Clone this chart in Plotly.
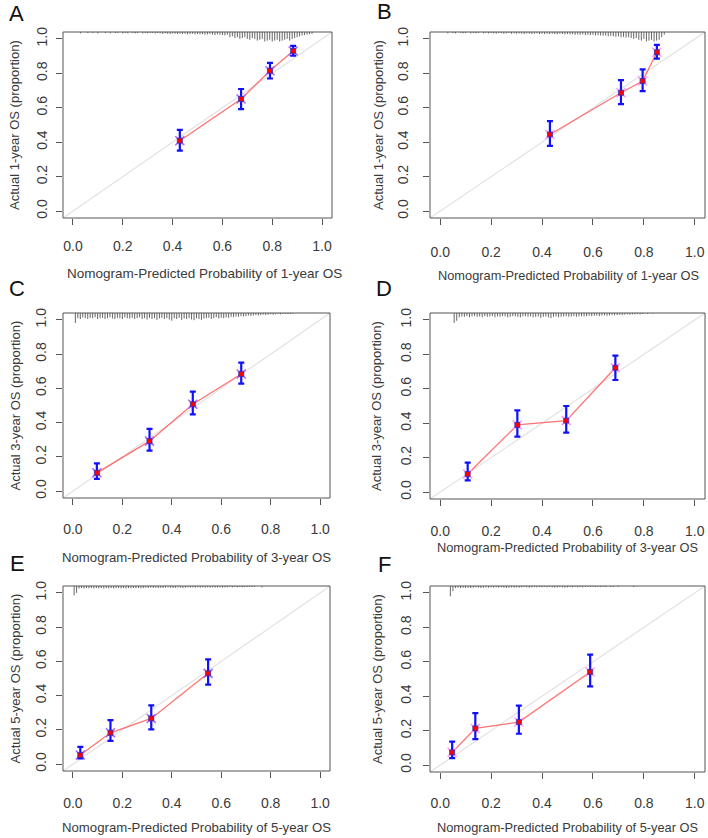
import plotly.graph_objects as go

W, H = 708, 838

# ---------------- data ----------------
panel_letters = ["A", "B", "C", "D", "E", "F"]
x_titles = [
    "Nomogram-Predicted Probability of 1-year OS",
    "Nomogram-Predicted Probability of 1-year OS",
    "Nomogram-Predicted Probability of 3-year OS",
    "Nomogram-Predicted Probability of 3-year OS",
    "Nomogram-Predicted Probability of 5-year OS",
    "Nomogram-Predicted Probability of 5-year OS",
]
y_titles = [
    "Actual 1-year OS (proportion)",
    "Actual 1-year OS (proportion)",
    "Actual 3-year OS (proportion)",
    "Actual 3-year OS (proportion)",
    "Actual 5-year OS (proportion)",
    "Actual 5-year OS (proportion)",
]
tick_vals = [0.0, 0.2, 0.4, 0.6, 0.8, 1.0]
tick_text = ["0.0", "0.2", "0.4", "0.6", "0.8", "1.0"]

# predicted (x), observed (y), CI lower / upper
pred_A = [0.429, 0.675, 0.791, 0.884]
obs_A = [0.409, 0.651, 0.815, 0.930]
low_A = [0.351, 0.592, 0.770, 0.902]
up_A = [0.472, 0.709, 0.861, 0.959]

pred_B = [0.431, 0.710, 0.795, 0.851]
obs_B = [0.445, 0.687, 0.755, 0.922]
low_B = [0.379, 0.621, 0.697, 0.885]
up_B = [0.522, 0.761, 0.823, 0.965]

pred_C = [0.097, 0.310, 0.485, 0.681]
obs_C = [0.107, 0.292, 0.507, 0.684]
low_C = [0.072, 0.236, 0.448, 0.628]
up_C = [0.162, 0.363, 0.581, 0.750]

pred_D = [0.108, 0.303, 0.495, 0.688]
obs_D = [0.105, 0.390, 0.415, 0.722]
low_D = [0.068, 0.322, 0.345, 0.651]
up_D = [0.171, 0.475, 0.500, 0.793]

pred_E = [0.030, 0.152, 0.317, 0.547]
obs_E = [0.053, 0.183, 0.267, 0.530]
low_E = [0.033, 0.136, 0.203, 0.464]
up_E = [0.101, 0.257, 0.343, 0.612]

pred_F = [0.047, 0.138, 0.309, 0.589]
obs_F = [0.074, 0.213, 0.250, 0.541]
low_F = [0.041, 0.151, 0.182, 0.457]
up_F = [0.136, 0.302, 0.345, 0.641]

# spike histograms (rug) of predicted probabilities: first bin and depths per 0.01 bin
rug_start_A = 0.03
rug_A = [0.008, 0, 0, 0.006, 0, 0.006, 0, 0.008, 0, 0, 0.006, 0, 0.008, 0, 0.006, 0.006, 0, 0.008,
         0.006, 0.008, 0, 0.006, 0.008, 0.006, 0, 0.008, 0.006, 0.008, 0.006, 0.006, 0.008, 0.006, 0.008,
         0.010, 0.008, 0.010, 0.012, 0.008, 0.010, 0.012, 0.010, 0.012, 0.010, 0.014, 0.012, 0.010, 0.014, 0.012,
         0.014, 0.012, 0.016, 0.014, 0.012, 0.016, 0.018, 0.014, 0.016, 0.018, 0.020, 0.016,
         0.030, 0.025, 0.035, 0.030, 0.040, 0.035, 0.030, 0.040, 0.045, 0.035,
         0.040, 0.050, 0.045, 0.040, 0.055, 0.050, 0.045, 0.055, 0.050, 0.045, 0.055, 0.050, 0.045, 0.040, 0.050, 0.040,
         0.035, 0.030, 0.025, 0.020, 0.018, 0.015, 0.012, 0.010]

rug_start_B = 0.03
rug_B = [0.008, 0, 0.006, 0.008, 0, 0.006, 0.008, 0.006, 0, 0.008, 0.006, 0.008, 0.006, 0, 0.008, 0.006, 0.008,
         0.006, 0.008, 0.010, 0.006, 0.008, 0.010, 0.008, 0.006, 0.010, 0.008, 0.010, 0.008, 0.010, 0.012,
         0.008, 0.010, 0.012, 0.010, 0.008, 0.012, 0.010, 0.012, 0.010, 0.012, 0.010, 0.012, 0.014, 0.010,
         0.012, 0.014, 0.012, 0.014, 0.012, 0.016, 0.014, 0.016, 0.014, 0.018, 0.016, 0.018, 0.016, 0.020,
         0.018, 0.020, 0.022, 0.020, 0.025, 0.022, 0.025, 0.028, 0.025, 0.030, 0.028, 0.032, 0.030, 0.035,
         0.040, 0.035, 0.045, 0.050, 0.040, 0.055, 0.050, 0.045, 0.055, 0.050, 0.045, 0.030, 0.015]

rug_start_C = 0.01
rug_C = [0.058, 0.030, 0.035, 0.025, 0.030, 0.035, 0.028, 0.030, 0.025, 0.035, 0.030, 0.028, 0.035, 0.030,
         0.025, 0.032, 0.035, 0.028, 0.030, 0.035, 0.025, 0.030, 0.032, 0.028, 0.035, 0.030, 0.025, 0.035,
         0.030, 0.038, 0.028, 0.035, 0.030, 0.040, 0.032, 0.028, 0.035, 0.030, 0.038, 0.045, 0.030, 0.035,
         0.028, 0.040, 0.032, 0.035, 0.030, 0.038, 0.042, 0.030, 0.035, 0.040, 0.032, 0.030, 0.028, 0.035,
         0.030, 0.025, 0.032, 0.028, 0.030, 0.025, 0.028, 0.022, 0.025, 0.020, 0.022, 0.018, 0.020, 0.018,
         0.015, 0.018, 0.015, 0.012, 0.015, 0.012, 0.010, 0.012, 0.010, 0.008, 0.010, 0.008, 0.006, 0.008,
         0.006, 0.005, 0.006, 0.005, 0.004]

rug_start_D = 0.055
rug_D = [0.058, 0.045, 0.025, 0.020, 0.022, 0.018, 0.025, 0.020, 0.018, 0.022, 0.020, 0.025, 0.018, 0.022,
         0.020, 0.018, 0.025, 0.020, 0.022, 0.018, 0.020, 0.025, 0.022, 0.018, 0.020, 0.022, 0.025, 0.020,
         0.018, 0.022, 0.020, 0.025, 0.022, 0.020, 0.028, 0.022, 0.020, 0.025, 0.030, 0.022, 0.020, 0.025,
         0.022, 0.020, 0.018, 0.022, 0.020, 0.018, 0.022, 0.020, 0.018, 0.020, 0.018, 0.016, 0.018, 0.016,
         0.015, 0.018, 0.015, 0.014, 0.016, 0.014, 0.012, 0.014, 0.012, 0.010, 0.012, 0.010, 0.008, 0.010,
         0.008, 0.008, 0.006, 0.008, 0.006, 0, 0.006, 0, 0.005]

rug_start_E = 0.005
rug_E = [0.055, 0.040, 0.015, 0.012, 0.015, 0.012, 0.014, 0.012, 0.015, 0.012, 0.014, 0.012, 0.015, 0.012,
         0.014, 0.012, 0.015, 0.013, 0.012, 0.014, 0.012, 0.015, 0.012, 0.014, 0.012, 0.013, 0.012, 0.014,
         0.012, 0.010, 0.012, 0.010, 0.012, 0.010, 0.012, 0.010, 0.012, 0.010, 0.008, 0.010, 0.012, 0.010,
         0.008, 0.010, 0.012, 0.010, 0.008, 0.010, 0.008, 0.010, 0.008, 0.010, 0.008, 0.010, 0.008, 0.010,
         0.008, 0.010, 0.008, 0.008, 0.010, 0.008, 0.008, 0.006, 0.008, 0.006, 0.008, 0.006, 0.008, 0.006,
         0.006, 0.005, 0.006, 0.005, 0, 0, 0.008]

rug_start_F = 0.04
rug_F = [0.060, 0.030, 0.012, 0.010, 0.012, 0.010, 0.012, 0.010, 0.012, 0.010, 0.008, 0.010, 0.012, 0.010,
         0.008, 0.010, 0.008, 0.010, 0.008, 0.010, 0.008, 0.010, 0.012, 0.010, 0.008, 0.010, 0.008, 0.010,
         0.008, 0.006, 0.008, 0.010, 0.008, 0.006, 0.008, 0.006, 0.008, 0.006, 0.008, 0.006, 0.008, 0.010,
         0.008, 0.006, 0.008, 0.010, 0.008, 0.006, 0.008, 0.006, 0.008, 0.006, 0.008, 0.006, 0.005, 0.006,
         0.005, 0.006, 0.005, 0.006, 0.005, 0.006, 0, 0.005, 0.006, 0, 0.005, 0, 0, 0, 0, 0, 0.006]

panels = [
    (pred_A, obs_A, low_A, up_A, rug_start_A, rug_A),
    (pred_B, obs_B, low_B, up_B, rug_start_B, rug_B),
    (pred_C, obs_C, low_C, up_C, rug_start_C, rug_C),
    (pred_D, obs_D, low_D, up_D, rug_start_D, rug_D),
    (pred_E, obs_E, low_E, up_E, rug_start_E, rug_E),
    (pred_F, obs_F, low_F, up_F, rug_start_F, rug_F),
]

# ---------------- layout geometry (pixels) ----------------
# plot box: left, right, top, bottom
boxes = [
    (63, 332, 32, 218),
    (430, 705, 32, 218),
    (63, 330, 313, 498),
    (430, 705, 313, 499),
    (63, 330, 586, 771),
    (430, 705, 586, 772),
]
letter_pos = [(16, 13), (384, 12), (17, 288), (384, 288), (17, 563), (384, 564)]
xtitle_pos = [(204, 273), (568, 275), (196, 557), (567, 547), (196, 827), (567, 827)]
xtitle_size = [13.5, 12.8, 13.2, 12.8, 13.2, 12.8]
ytitle_x = [15, 379, 15, 377, 15, 377]
xlab_standoff = [9, 15, 12, 13, 13, 12]
ylab_standoff = [3, 9, 4, 6, 4, 6]

RANGE = [-0.04, 1.04]
TXT = "#3a3a3a"
AX = "#555555"
FONT = "Liberation Sans, Arial, sans-serif"

fig = go.Figure()
layout = dict(
    width=W, height=H,
    margin=dict(l=0, r=0, t=0, b=0, autoexpand=False),
    paper_bgcolor="white", plot_bgcolor="white",
    showlegend=False,
    font=dict(family=FONT, color=TXT, size=13),
)
annotations = []
shapes = []

for i, (pred, obs, low, up, rstart, rug) in enumerate(panels):
    n = i + 1
    xa = "x" if n == 1 else f"x{n}"
    ya = "y" if n == 1 else f"y{n}"
    l, r, t, b = boxes[i]
    xdom = [l / W, r / W]
    ydom = [1 - b / H, 1 - t / H]

    # diagonal reference line
    fig.add_trace(go.Scatter(x=RANGE, y=RANGE, mode="lines",
                             line=dict(color="#e2e2e2", width=1.2),
                             xaxis=xa, yaxis=ya, hoverinfo="skip"))
    # spike histogram at top
    rx, ry = [], []
    for k, h in enumerate(rug):
        if h <= 0:
            continue
        xv = rstart + 0.01 * k
        rx += [xv, xv, None]
        ry += [RANGE[1], RANGE[1] - h, None]
    fig.add_trace(go.Scatter(x=rx, y=ry, mode="lines",
                             line=dict(color="#666666", width=1),
                             xaxis=xa, yaxis=ya, hoverinfo="skip"))
    # red calibration line
    fig.add_trace(go.Scatter(x=pred, y=obs, mode="lines",
                             line=dict(color="rgba(255,80,80,0.8)", width=1.3),
                             xaxis=xa, yaxis=ya))
    # bias-corrected markers (light blue x)
    fig.add_trace(go.Scatter(x=pred, y=obs, mode="markers",
                             marker=dict(symbol="x-thin-open", size=9,
                                         line=dict(color="rgba(120,140,255,0.6)", width=1.5)),
                             xaxis=xa, yaxis=ya))
    # error bars
    err_up = [u - o for u, o in zip(up, obs)]
    err_dn = [o - lo for o, lo in zip(obs, low)]
    fig.add_trace(go.Scatter(x=pred, y=obs, mode="markers",
                             marker=dict(color="red", size=5, symbol="square",
                                         line=dict(color="#3030c0", width=0.8)),
                             error_y=dict(type="data", array=err_up, arrayminus=err_dn,
                                          color="#1010ff", thickness=2.2, width=3),
                             xaxis=xa, yaxis=ya))

    common = dict(range=RANGE, showgrid=False, zeroline=False, automargin=False,
                  showline=False,
                  ticks="outside", ticklen=6, tickcolor=AX, tickwidth=1,
                  tickvals=tick_vals, ticktext=tick_text,
                  tickfont=dict(family=FONT, size=14, color=TXT))
    layout["xaxis" if n == 1 else f"xaxis{n}"] = dict(
        domain=xdom, anchor=ya, ticklabelstandoff=xlab_standoff[i], **common)
    layout["yaxis" if n == 1 else f"yaxis{n}"] = dict(
        domain=ydom, anchor=xa, tickangle=-90, ticklabelstandoff=ylab_standoff[i], **common)

    # plot box
    shapes.append(dict(type="rect", xref="paper", yref="paper",
                       x0=xdom[0], x1=xdom[1], y0=ydom[0], y1=ydom[1],
                       line=dict(color=AX, width=1), fillcolor="rgba(0,0,0,0)", layer="above"))

    # texts
    lx, ly = letter_pos[i]
    annotations.append(dict(text=panel_letters[i], x=lx / W, y=1 - ly / H,
                            xref="paper", yref="paper", xanchor="center", yanchor="middle",
                            showarrow=False, font=dict(family=FONT, size=22, color="#111111")))
    tx, ty = xtitle_pos[i]
    annotations.append(dict(text=x_titles[i], x=tx / W, y=1 - ty / H,
                            xref="paper", yref="paper", xanchor="center", yanchor="middle",
                            showarrow=False, font=dict(family=FONT, size=xtitle_size[i], color=TXT)))
    annotations.append(dict(text=y_titles[i], x=ytitle_x[i] / W, y=1 - ((t + b) / 2) / H,
                            xref="paper", yref="paper", xanchor="center", yanchor="middle",
                            textangle=-90, showarrow=False,
                            font=dict(family=FONT, size=13, color=TXT)))

layout["annotations"] = annotations
layout["shapes"] = shapes
fig.update_layout(**layout)
fig.write_html(
    "out.html",
    config={"displayModeBar": False},
    post_script="document.body.style.margin='0';document.body.style.overflow='hidden';",
)
